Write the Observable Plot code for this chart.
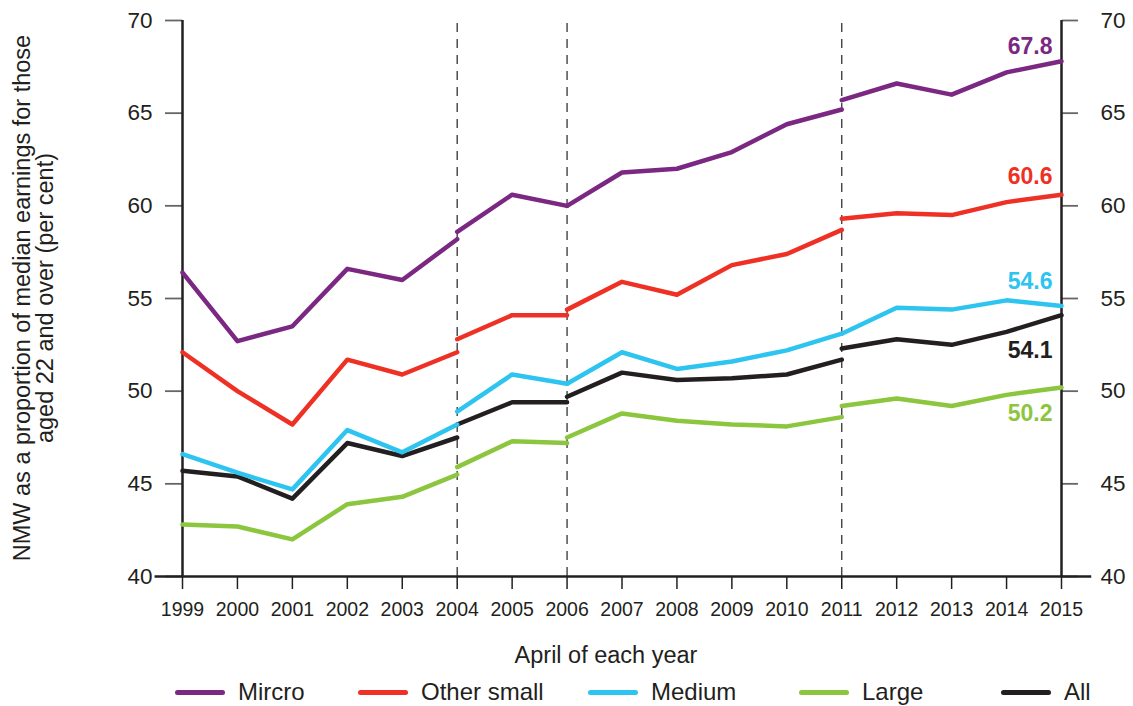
<!DOCTYPE html>
<html><head><meta charset="utf-8">
<script src="https://cdn.jsdelivr.net/npm/d3@7"></script>
<script src="https://cdn.jsdelivr.net/npm/@observablehq/plot@0.6"></script>
<style>
body{margin:0;background:#fff;font-family:"Liberation Sans",Arial,sans-serif;}
#wrap{position:relative;width:1133px;height:706px;overflow:hidden;}
#wrap svg{display:block;}
.leg{position:absolute;top:678px;height:28px;display:flex;align-items:center;font-size:24px;color:#231f20;white-space:nowrap;}
.sw{width:50px;height:5px;border-radius:3px;margin-right:13px;}
</style></head><body><div id="wrap"></div>
<script>
// ---- data ----
const years = [1999,2000,2001,2002,2003,2004,2005,2006,2007,2008,2009,2010,2011,2012,2013,2014,2015];
const breakYears = [2004, 2006, 2011];
const segmentStarts = [1999, 2004, 2006, 2011];
const seriesNames = ["Mircro", "Other small", "Medium", "Large", "All"];
const seriesColors = ["#7b2882", "#ee3124", "#2ec4f0", "#8cc63f", "#231f20"];
const yTicks = [40, 45, 50, 55, 60, 65, 70];

const micro = [
  [56.4, 52.7, 53.5, 56.6, 56.0, 58.2],
  [58.6, 60.6, 60.0],
  [60.0, 61.8, 62.0, 62.9, 64.4, 65.2],
  [65.7, 66.6, 66.0, 67.2, 67.8]
];
const otherSmall = [
  [52.1, 50.0, 48.2, 51.7, 50.9, 52.1],
  [52.8, 54.1, 54.1],
  [54.4, 55.9, 55.2, 56.8, 57.4, 58.7],
  [59.3, 59.6, 59.5, 60.2, 60.6]
];
const medium = [
  [46.6, 45.6, 44.7, 47.9, 46.7, 48.2],
  [48.9, 50.9, 50.4],
  [50.4, 52.1, 51.2, 51.6, 52.2, 53.1],
  [53.1, 54.5, 54.4, 54.9, 54.6]
];
const large = [
  [42.8, 42.7, 42.0, 43.9, 44.3, 45.5],
  [45.9, 47.3, 47.2],
  [47.5, 48.8, 48.4, 48.2, 48.1, 48.6],
  [49.2, 49.6, 49.2, 49.8, 50.2]
];
const all = [
  [45.7, 45.4, 44.2, 47.2, 46.5, 47.5],
  [48.2, 49.4, 49.4],
  [49.7, 51.0, 50.6, 50.7, 50.9, 51.7],
  [52.3, 52.8, 52.5, 53.2, 54.1]
];
// end-of-line labels, in series order (Mircro, Other small, Medium, Large, All)
const endLabels = ["67.8", "60.6", "54.6", "50.2", "54.1"];

// ---- build rows ----
const seriesData = [micro, otherSmall, medium, large, all];
const rows = [];
seriesData.forEach((segs, i) => {
  segs.forEach((vals, j) => {
    vals.forEach((v, k) => rows.push({series: seriesNames[i], color: seriesColors[i], key: i + "-" + j, year: segmentStarts[j] + k, value: v, order: i}));
  });
});
// draw order: All first, then Large, Medium, Other small, Micro
const drawOrder = [4, 3, 2, 1, 0];
const orderedRows = drawOrder.flatMap(i => rows.filter(r => r.order === i));

const labelDy = [-15, -18, -24, 26, 35];
const labelRows = seriesData.map((segs, i) => {
  const last = segs[segs.length - 1];
  return {year: years[years.length - 1], value: last[last.length - 1], text: endLabels[i], color: seriesColors[i], dy: labelDy[i]};
});

const font = "Liberation Sans, Arial, sans-serif";
const chart = Plot.plot({
  width: 1133, height: 676,
  marginLeft: 182, marginRight: 72, marginTop: 20, marginBottom: 100,
  x: {domain: [1999, 2015]},
  y: {domain: [40, 70]},
  style: {fontFamily: font, color: "#231f20", background: "white", overflow: "visible"},
  marks: [
    Plot.ruleX(breakYears, {y1: 40, y2: 70, stroke: "#333", strokeWidth: 1.3, strokeDasharray: "9,7"}),
    Plot.axisX({ticks: years, tickFormat: () => "", tickSize: 13, strokeWidth: 1.5, stroke: "#231f20", label: null}),
    Plot.text(years, {x: d => d, text: d => String(d), frameAnchor: "bottom", lineAnchor: "top", dy: 26, fontSize: 19.5, fill: "#231f20"}),
    Plot.axisY({anchor: "left", ticks: yTicks, tickSize: 17, tickPadding: 13, fontSize: 22.5, stroke: "#666", strokeWidth: 1.8, fill: "#231f20", label: null}),
    Plot.axisY({anchor: "right", ticks: yTicks, tickSize: 16, tickPadding: 23, fontSize: 22.5, stroke: "#666", strokeWidth: 1.8, fill: "#231f20", label: null}),
    Plot.ruleX([years[0], years[years.length - 1]], {y1: 40, y2: 70, stroke: "#231f20", strokeWidth: 2.5}),
    Plot.ruleY([40], {x1: 1998.5, x2: 2015.55, stroke: "#231f20", strokeWidth: 2.5}),
    Plot.line(orderedRows, {x: "year", y: "value", z: "key", stroke: "color", strokeWidth: 4.5, strokeLinecap: "round", strokeLinejoin: "round"}),
    ...labelRows.map(d => Plot.text([d], {x: "year", y: "value", text: "text", fill: d.color, dy: d.dy, dx: -9, textAnchor: "end", fontWeight: "bold", fontSize: 23}))
  ]
});

const svg = d3.select(chart);
svg.selectAll('g[aria-label="y-axis tick label"]').attr("font-size", 22.5);
// y-axis title
const yt = svg.append("text")
  .attr("transform", "translate(0,298) rotate(-90)")
  .attr("text-anchor", "middle")
  .attr("font-family", font).attr("font-size", 23.5).attr("fill", "#231f20");
yt.append("tspan").attr("x", 0).attr("y", 30).text("NMW as a proportion of median earnings for those");
yt.append("tspan").attr("x", 0).attr("y", 53).text("aged 22 and over (per cent)");
// x-axis title
svg.append("text")
  .attr("x", 606).attr("y", 663)
  .attr("text-anchor", "middle")
  .attr("font-family", font).attr("font-size", 23.5).attr("fill", "#231f20")
  .text("April of each year");

const wrap = document.getElementById("wrap");
wrap.appendChild(chart);

// legend
const legendLeft = [175, 358, 588, 799, 1001];
seriesNames.forEach((name, i) => {
  const item = document.createElement("div");
  item.className = "leg";
  item.style.left = legendLeft[i] + "px";
  const sw = document.createElement("span");
  sw.className = "sw";
  sw.style.background = seriesColors[i];
  const t = document.createElement("span");
  t.textContent = name;
  item.appendChild(sw); item.appendChild(t);
  wrap.appendChild(item);
});
</script></body></html>
